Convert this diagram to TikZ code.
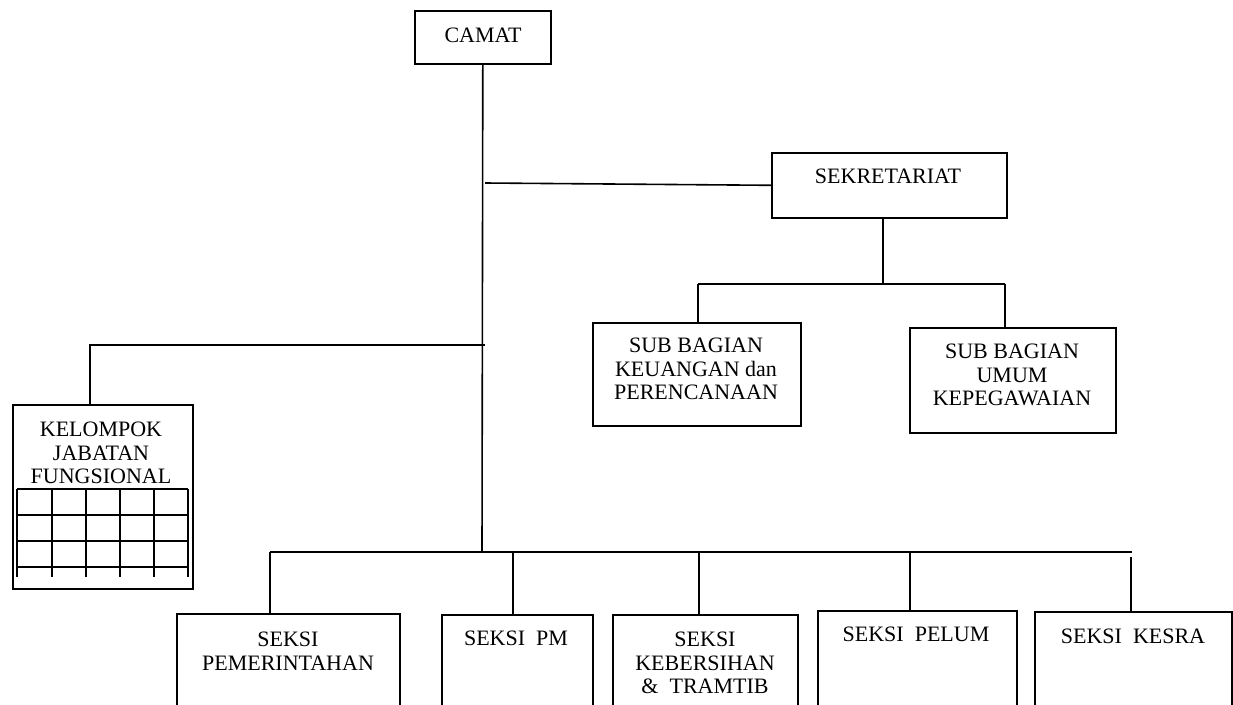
\documentclass[tikz,border=0pt]{standalone}
\usepackage{fontspec}
\setmainfont{Liberation Serif}
\begin{document}
\begin{tikzpicture}[x=1pt,y=-1pt,
  line width=1.6pt,
  box/.style={draw, line width=1.6pt, inner sep=0pt, anchor=north west},
  txt/.style={inner sep=0pt, align=center, font=\fontsize{22}{23.5}\selectfont},
  conn/.style={line width=1.6pt}]
\useasboundingbox (0,0) rectangle (1233,704);
\clip (0,0) rectangle (1233,704);
% boxes
\node[box, minimum width=136, minimum height=53] (camat) at (414,10) {};
\node[txt] (camatT) at (483,35) {CAMAT};
\node[box, minimum width=235, minimum height=65] (sek) at (771,152) {};
\node[txt] (sekT) at (888,176) {SEKRETARIAT};
\node[box, minimum width=208, minimum height=103] (keu) at (592,322) {};
\node[txt] (keuT) at (696,369) {SUB BAGIAN\\KEUANGAN dan\\PERENCANAAN};
\node[box, minimum width=206, minimum height=105] (umum) at (909,327) {};
\node[txt] (umumT) at (1012,375) {SUB BAGIAN\\UMUM\\KEPEGAWAIAN};
\node[box, minimum width=180, minimum height=184] (kel) at (12,404) {};
\node[txt] (kelT) at (101,453) {KELOMPOK\\JABATAN\\FUNGSIONAL};
\node[box, minimum width=223, minimum height=110] (pem) at (176,613) {};
\node[txt] (pemT) at (288,651) {SEKSI\\PEMERINTAHAN};
\node[box, minimum width=151, minimum height=110] (pm) at (441,614) {};
\node[txt] (pmT) at (516,638) {SEKSI\ \ PM};
\node[box, minimum width=185, minimum height=110] (keb) at (612,614) {};
\node[txt] (kebT) at (705,663) {SEKSI\\KEBERSIHAN\\\&\ \ TRAMTIB};
\node[box, minimum width=199, minimum height=110] (pel) at (817,610) {};
\node[txt] (pelT) at (916,634) {SEKSI\ \ PELUM};
\node[box, minimum width=197, minimum height=110] (kes) at (1034,611) {};
\node[txt] (kesT) at (1133,636) {SEKSI\ \ KESRA};
% grid inside KELOMPOK
\foreach \yy in {489,515,541,567} \draw (17,\yy) -- (188,\yy);
\foreach \xx in {17,52,86,120,154,188} \draw (\xx,489) -- (\xx,577);
% coordinates
\coordinate (busC) at (482,552);
\coordinate (busL) at (270,552);
\coordinate (busR) at (1132,552);
\coordinate (sekL) at (485,183);
\coordinate (j2) at (883,284);
\coordinate (j2L) at (698,284);
\coordinate (j2R) at (1005,284);
\coordinate (k1) at (485,345);
\coordinate (k2) at (90,345);
% connectors
\draw[conn] (camat.south) -- (busC);
\draw[conn] (sekL) -- (sek.west);
\draw[conn] (sek.south -| j2) -- (j2);
\draw[conn] (j2L) -- (j2R);
\draw[conn] (j2L) -- (j2L |- keu.north);
\draw[conn] (j2R) -- (j2R |- umum.north);
\draw[conn] (k1) -- (k2) -- (k2 |- kel.north);
\draw[conn] (busL) -- (busR);
\draw[conn] (busL) -- (busL |- pem.north);
\draw[conn] (513,552) -- (513,614) coordinate (pmTop);
\draw[conn] (699,552) -- (699,614) coordinate (kebTop);
\draw[conn] (910,552) -- (910,610) coordinate (pelTop);
\draw[conn] (1131,557) coordinate (kesS) -- (kesS |- kes.north);
\end{tikzpicture}
\end{document}
